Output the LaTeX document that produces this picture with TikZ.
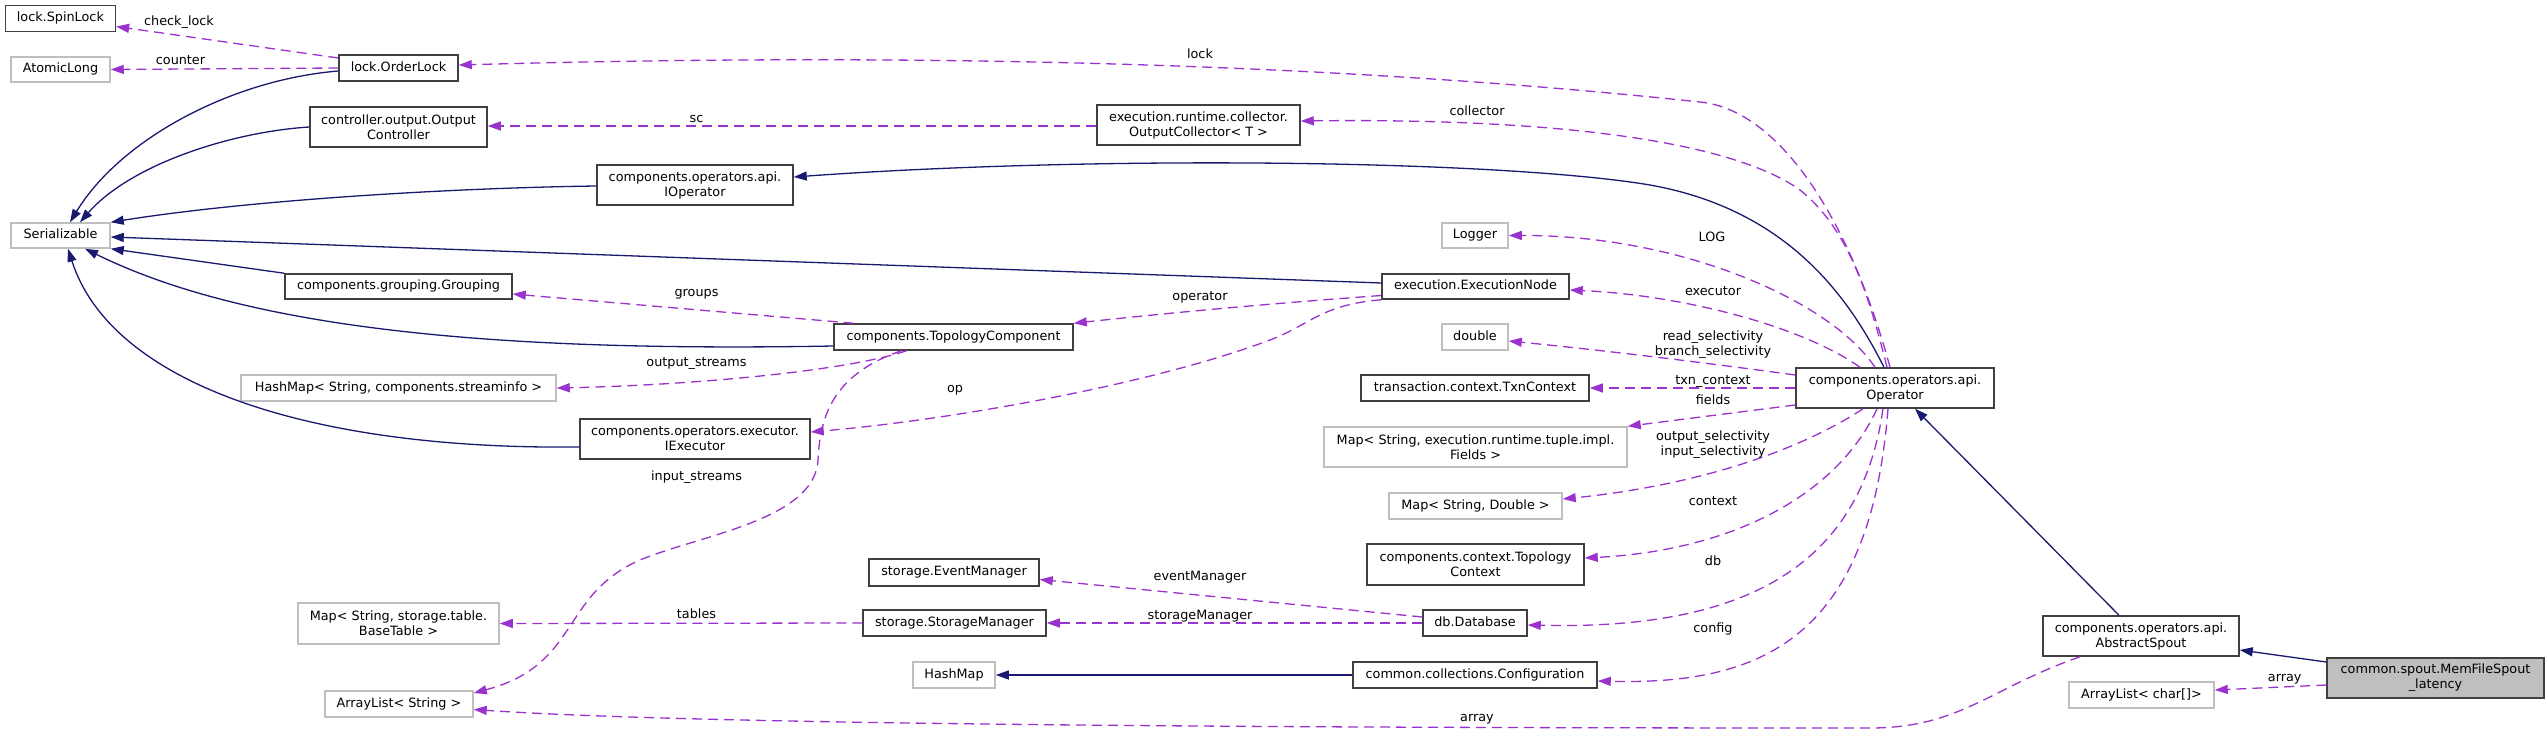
\documentclass[tikz,border=0pt]{standalone}
\usepackage{fontspec}
\setmainfont{DejaVu Sans}
\usetikzlibrary{arrows.meta}
\definecolor{navyc}{HTML}{191970}
\definecolor{purp}{HTML}{9A32CD}
\definecolor{bdark}{HTML}{404040}
\definecolor{bgrey}{HTML}{BFBFBF}
\begin{document}
\begin{tikzpicture}[x=1pt,y=-1pt,
  every node/.style={font=\fontsize{12.8}{15}\selectfont, inner sep=0pt, align=center},
  cls/.style={draw=bdark, line width=1.5pt, fill=white},
  ext/.style={draw=bgrey, line width=1.5pt, fill=white},
  cur/.style={draw=bdark, line width=1.5pt, fill=bgrey},
  one/.style={text height=9.5pt, text depth=3pt},
  inh/.style={draw=navyc, line width=1.3pt, -{Triangle[length=13pt,width=9pt]}},
  use/.style={draw=purp, line width=1.3pt, dash pattern=on 10pt off 6pt, -{Triangle[length=13pt,width=9pt]}},
  lbl/.style={text height=9.5pt, text depth=3pt}
]
\useasboundingbox[fill=white] (0,0) rectangle (2545,731);

% ---------- nodes ----------
\node[cls,one,minimum width=110pt,minimum height=25.6pt] (spin) at (60.4,18.5) {lock.SpinLock};
\node[ext,one,minimum width=99pt,minimum height=25pt] (atomic) at (60.5,69.5) {AtomicLong};
\node[cls,one,minimum width=119pt,minimum height=26pt] (orderlock) at (398.5,68) {lock.OrderLock};
\node[cls,minimum width=177pt,minimum height=40pt] (outctrl) at (398.5,127) {controller.output.Output\\Controller};
\node[cls,minimum width=196pt,minimum height=40pt] (ioperator) at (695,185) {components.operators.api.\\IOperator};
\node[ext,one,minimum width=99pt,minimum height=25pt] (serial) at (60.5,235.5) {Serializable};
\node[cls,one,minimum width=227pt,minimum height=25pt] (grouping) at (398.5,286.5) {components.grouping.Grouping};
\node[cls,one,minimum width=239pt,minimum height=26pt] (topo) at (953.5,337) {components.TopologyComponent};
\node[ext,one,minimum width=315pt,minimum height=26pt] (hmstream) at (398.5,388) {HashMap< String, components.streaminfo >};
\node[cls,minimum width=230pt,minimum height=40pt] (iexec) at (695,439) {components.operators.executor.\\IExecutor};
\node[ext,minimum width=201pt,minimum height=41pt] (mapbase) at (398.5,623.5) {Map< String, storage.table.\\BaseTable >};
\node[ext,one,minimum width=148pt,minimum height=26pt] (alstring) at (399,704) {ArrayList< String >};
\node[cls,minimum width=203pt,minimum height=40pt] (outcoll) at (1198.5,125) {execution.runtime.collector.\\OutputCollector< T >};
\node[ext,one,minimum width=66pt,minimum height=25pt] (logger) at (1475,235.5) {Logger};
\node[cls,one,minimum width=187pt,minimum height=25pt] (execnode) at (1475.5,286.5) {execution.ExecutionNode};
\node[ext,one,minimum width=66pt,minimum height=26pt] (double) at (1475,337) {double};
\node[cls,one,minimum width=228pt,minimum height=26pt] (txn) at (1475,388) {transaction.context.TxnContext};
\node[ext,minimum width=303pt,minimum height=40pt] (mapfields) at (1475.5,447) {Map< String, execution.runtime.tuple.impl.\\Fields >};
\node[ext,one,minimum width=173pt,minimum height=26pt] (mapdouble) at (1475.5,506) {Map< String, Double >};
\node[cls,minimum width=217pt,minimum height=41pt] (topoctx) at (1475.5,564.5) {components.context.Topology\\Context};
\node[cls,one,minimum width=170pt,minimum height=27pt] (eventmgr) at (954,572.5) {storage.EventManager};
\node[cls,one,minimum width=183pt,minimum height=26pt] (storagemgr) at (954.5,623) {storage.StorageManager};
\node[cls,one,minimum width=104pt,minimum height=26pt] (database) at (1475,623) {db.Database};
\node[ext,one,minimum width=82pt,minimum height=26pt] (hashmap) at (954,675) {HashMap};
\node[cls,one,minimum width=244pt,minimum height=26pt] (config) at (1475,675) {common.collections.Configuration};
\node[cls,minimum width=198pt,minimum height=40pt] (operator) at (1895,388) {components.operators.api.\\Operator};
\node[cls,minimum width=196pt,minimum height=40pt] (spout) at (2141,636) {components.operators.api.\\AbstractSpout};
\node[cur,minimum width=217pt,minimum height=40pt] (memfile) at (2435.5,678) {common.spout.MemFileSpout\\\_latency};
\node[ext,one,minimum width=145pt,minimum height=26pt] (alchar) at (2141.5,695) {ArrayList< char[]>};

% ---------- inheritance ----------
\draw[inh] ([yshift=-3pt]orderlock.west) .. controls (230,80) and (120,140) .. ([xshift=9.5pt]serial.north);
\draw[inh] (outctrl.west) .. controls (230,132) and (130,165) .. ([xshift=19.5pt]serial.north);
\draw[inh] ([yshift=-1pt]ioperator.west) .. controls (450,188) and (250,200) .. (serial.north east);
\draw[inh] ([yshift=3.5pt]execnode.west) -- ([yshift=-1.5pt]serial.east);
\draw[inh] (grouping.north west) -- (serial.south east);
\draw[inh] ([yshift=-9pt]topo.west) .. controls (500,352) and (250,330) .. ([xshift=24.5pt]serial.south);
\draw[inh] ([yshift=-8pt]iexec.west) .. controls (300,450) and (110,380) .. ([xshift=7.5pt]serial.south);
\draw[inh] ([xshift=-11pt]operator.north) .. controls (1850,300) and (1790,210) .. (1650,185) .. controls (1500,160) and (1100,155) .. ([yshift=8pt]ioperator.east);
\draw[inh] (config.west) -- (hashmap.east);
\draw[inh] ([xshift=-22pt]spout.north) -- ([xshift=20pt]operator.south);
\draw[inh] ([yshift=16pt]memfile.west) -- ([yshift=-14pt]spout.east);

% ---------- usage ----------
\draw[use] ([yshift=10pt]orderlock.west) -- ([yshift=-8pt]spin.east);
\draw[use] (orderlock.west) -- (atomic.east);
\draw[use] ([xshift=-5pt]operator.north) .. controls (1850,220) and (1780,110) .. (1700,102) .. controls (1400,70) and (1000,50) .. ([yshift=3pt]orderlock.east);
\draw[use] ([yshift=-1pt]outcoll.west) -- ([yshift=1pt]outctrl.east);
\draw[use] ([xshift=-8pt]operator.north) .. controls (1870,300) and (1850,230) .. (1800,190) .. controls (1730,140) and (1550,118) .. ([yshift=4pt]outcoll.east);
\draw[use] ([xshift=-20pt]operator.north) .. controls (1830,300) and (1680,235) .. (logger.east);
\draw[use] ([xshift=-35pt]operator.north) .. controls (1800,325) and (1680,295) .. ([yshift=-3.5pt]execnode.east);
\draw[use] ([yshift=13pt]operator.west) .. controls (1700,362) and (1600,350) .. ([yshift=-4pt]double.east);
\draw[use] (operator.west) -- (txn.east);
\draw[use] ([yshift=-17pt]operator.west) -- (mapfields.north east);
\draw[use] ([xshift=-32pt]operator.south) .. controls (1800,450) and (1700,485) .. ([yshift=7pt]mapdouble.east);
\draw[use] ([xshift=-18pt]operator.south) .. controls (1840,490) and (1740,550) .. ([yshift=6.5pt]topoctx.east);
\draw[use] ([xshift=-12pt]operator.south) .. controls (1860,570) and (1740,630) .. ([yshift=-2pt]database.east);
\draw[use] ([xshift=-7pt]operator.south) .. controls (1870,640) and (1760,685) .. ([yshift=-6pt]config.east);
\draw[use] ([yshift=-9pt]execnode.west) .. controls (1250,305) and (1150,315) .. (topo.north east);
\draw[use] (execnode.south west) .. controls (1320,305) and (1310,325) .. (1270,340) .. controls (1150,385) and (950,420) .. ([yshift=7pt]iexec.east);
\draw[use] ([xshift=-100pt]topo.north) -- ([yshift=-7.5pt]grouping.east);
\draw[use] ([xshift=-47pt]topo.south) .. controls (850,370) and (700,385) .. (hmstream.east);
\draw[use] ([xshift=-52pt]topo.south) .. controls (830,375) and (820,420) .. (818,460) .. controls (815,520) and (700,535) .. (640,560) .. controls (560,595) and (580,665) .. ([yshift=11pt]alstring.east);
\draw[use] (storagemgr.west) -- (mapbase.east);
\draw[use] ([yshift=6pt]database.west) -- ([yshift=-7pt]eventmgr.east);
\draw[use] (database.west) -- (storagemgr.east);
\draw[use] ([xshift=-61pt]spout.south) .. controls (1990,688) and (1960,728) .. (1870,728) .. controls (1300,728) and (700,725) .. ([yshift=-5.5pt]alstring.east);
\draw[use] ([yshift=-7pt]memfile.west) -- ([yshift=5pt]alchar.east);

% ---------- labels ----------
\node[lbl] (lcheck) at (179,22.7) {check\_lock};
\node[lbl] (lcounter) at (180.5,61) {counter};
\node[lbl] (llock) at (1200,55) {lock};
\node[lbl] (lsc) at (696.5,119) {sc};
\node[lbl] (lcollector) at (1477,112) {collector};
\node[lbl] (lgroups) at (696.5,293) {groups};
\node[lbl] (loutstreams) at (696.5,363) {output\_streams};
\node[lbl] (linstreams) at (696.5,477) {input\_streams};
\node[lbl] (lop) at (955,389.5) {op};
\node[lbl] (loperator) at (1200,297) {operator};
\node[lbl] (ltables) at (696.5,615) {tables};
\node[lbl] (levent) at (1200,577.5) {eventManager};
\node[lbl] (lstorage) at (1200,616) {storageManager};
\node[lbl] (larray) at (1477,718) {array};
\node[lbl] (llog) at (1712,238) {LOG};
\node[lbl] (lexecutor) at (1713,292) {executor};
\node (lsel) at (1713,344.5) {read\_selectivity\\branch\_selectivity};
\node[lbl] (ltxn) at (1713,381.5) {txn\_context};
\node[lbl] (lfields) at (1713,401) {fields};
\node (lsel2) at (1713,445) {output\_selectivity\\input\_selectivity};
\node[lbl] (lcontext) at (1713,502.6) {context};
\node[lbl] (ldb) at (1713,562.5) {db};
\node[lbl] (lconfig) at (1713,629) {config};
\node[lbl] (larray2) at (2284.7,677.8) {array};
\end{tikzpicture}
\end{document}
